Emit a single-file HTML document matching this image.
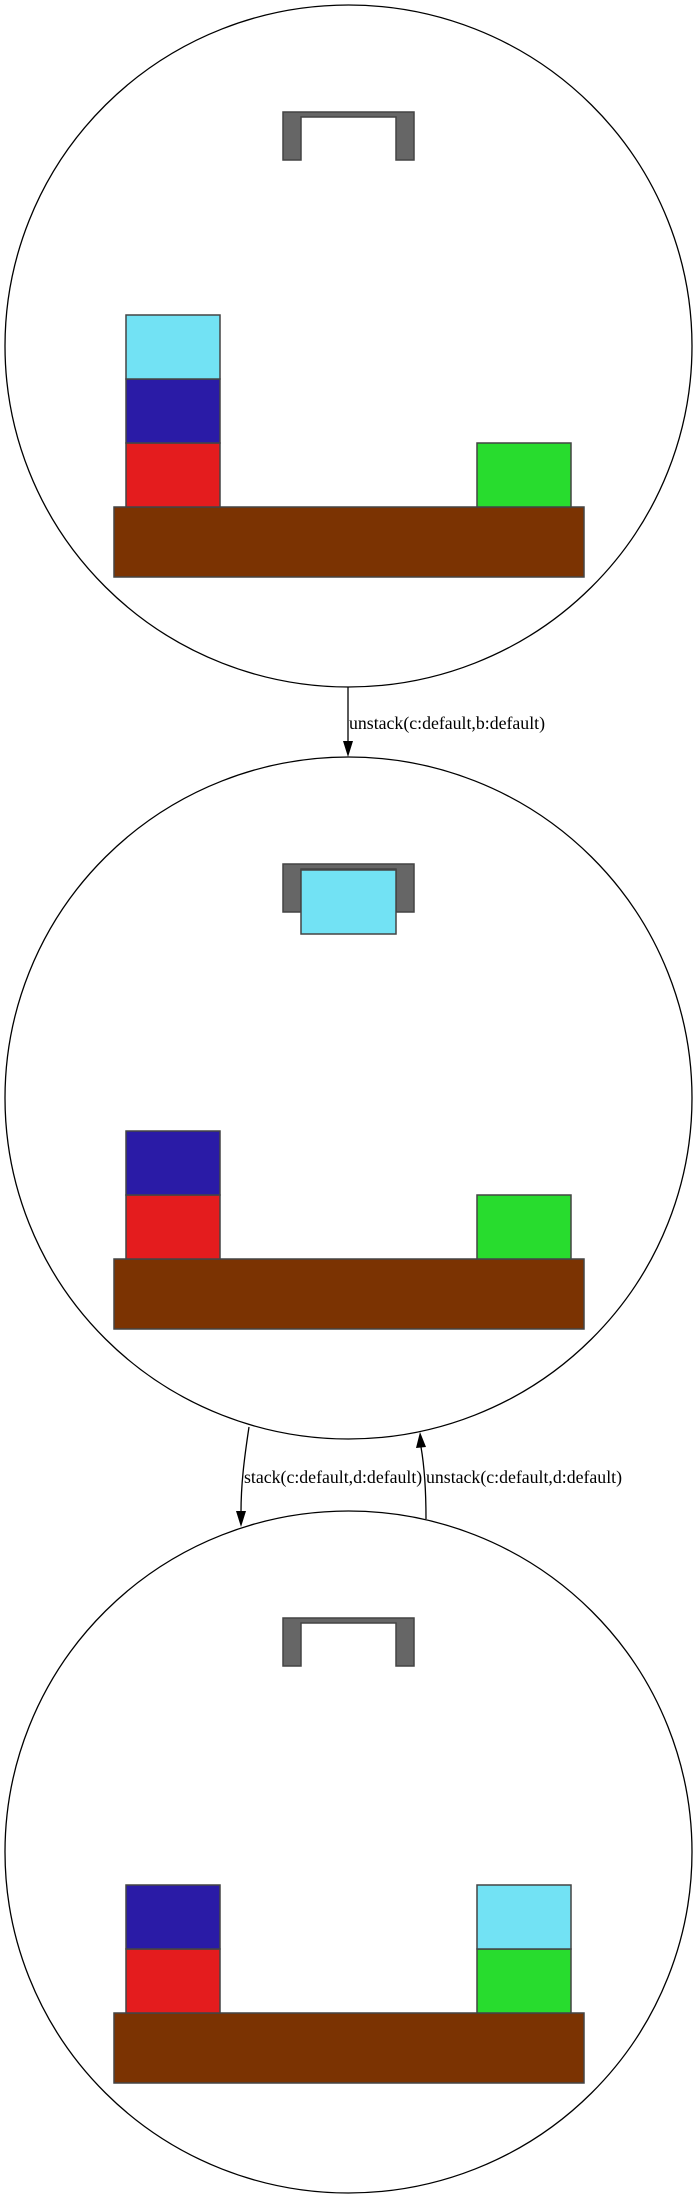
<!DOCTYPE html>
<html><head><meta charset="utf-8"><style>html,body{margin:0;padding:0;background:#fff}svg{display:block}</style></head>
<body>
<svg width="693" height="2199" viewBox="0 0 693 2199" xmlns="http://www.w3.org/2000/svg">
<defs><style>.blk{stroke:#444;stroke-width:1.5}.lbl{font-family:"Liberation Serif",serif;font-size:17.8px;fill:#000}</style></defs>
<g id="states"></g>
<g>
<line x1="348" y1="687" x2="348" y2="742" stroke="#000" stroke-width="1.3"/>
<polygon points="343,741 353,741 348,757" fill="#000"/>
<text class="lbl" x="349" y="729">unstack(c:default,b:default)</text>
</g>
<g>
<path d="M249,1427 C244,1460 241,1485 241,1512" fill="none" stroke="#000" stroke-width="1.3"/>
<polygon points="236,1511 246,1511 241,1527" fill="#000"/>
<text class="lbl" x="244" y="1483">stack(c:default,d:default)</text>
</g>
<g>
<path d="M426,1519 C426,1495 425,1470 421,1447" fill="none" stroke="#000" stroke-width="1.3"/>
<polygon points="416,1448 426,1447 420,1432" fill="#000"/>
<text class="lbl" x="426" y="1483">unstack(c:default,d:default)</text>
</g>
</svg>
<script>
const stateTops=[5,757,1511];
const leftStacks=[["#e41c1e","#2a1ba6","#72e2f4"],["#e41c1e","#2a1ba6"],["#e41c1e","#2a1ba6"]];
const rightStacks=[["#28dc2e"],["#28dc2e"],["#28dc2e","#72e2f4"]];
const heldBlocks=[null,"#72e2f4",null];
const NS="http://www.w3.org/2000/svg";
const g=document.getElementById('states');
function mk(tag,attrs,parent){const e=document.createElementNS(NS,tag);for(const k in attrs)e.setAttribute(k,attrs[k]);parent.appendChild(e);return e;}
stateTops.forEach((top,i)=>{
  const sg=mk('g',{},g);
  
  
  const c=mk('ellipse',{cx:348.5,cy:top+341,rx:343.5,ry:341,fill:'none',stroke:'#000','stroke-width':1.3},sg);
  
  
  const gr=mk('path',{d:`M283,${top+107} H414 V${top+155} H396 V${top+112} H301 V${top+155} H283 Z`,fill:'#666',stroke:'#444','stroke-width':1.5},sg);
  
  
  if(heldBlocks[i]){
    const h=mk('rect',{x:301,y:top+113,width:95,height:64,fill:heldBlocks[i],class:'blk'},sg);
    
    
  }
  const t=mk('rect',{x:114,y:top+502,width:470,height:70,fill:'#7b3302',class:'blk'},sg);
  
  
  leftStacks[i].forEach((col,k)=>{
    const r=mk('rect',{x:126,y:top+502-64*(k+1),width:94,height:64,fill:col,class:'blk'},sg);
    
    
  });
  rightStacks[i].forEach((col,k)=>{
    const r=mk('rect',{x:477,y:top+502-64*(k+1),width:94,height:64,fill:col,class:'blk'},sg);
    
    
  });
});
</script>
</body></html>
